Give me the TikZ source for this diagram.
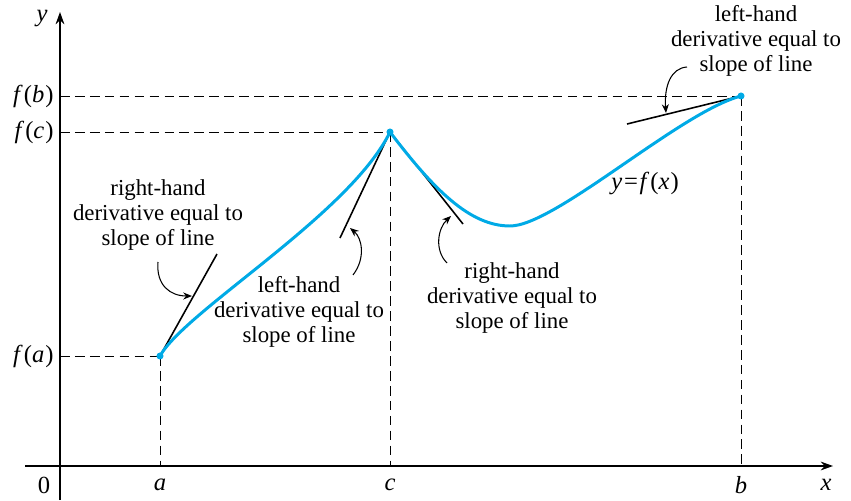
\documentclass[tikz,border=0pt]{standalone}
\usepackage{fontspec}
\setmainfont{Liberation Serif}
\usetikzlibrary{arrows.meta}
\definecolor{curveblue}{RGB}{0,170,230}
\newcommand{\fof}[1]{\textit{f}\kern0.6pt(\textit{#1}\kern0.6pt)}

\begin{document}
\begin{tikzpicture}[x=0.02cm, y=-0.02cm,
    axis/.style={line width=0.8pt, -{Stealth[length=7pt,width=5pt]}},
    guide/.style={dash pattern=on 5.5pt off 3pt, line width=0.5pt},
    tangent/.style={line width=0.9pt},
    pointer/.style={line width=0.6pt, -{Stealth[length=5pt,width=4pt]}},
    note/.style={align=center, inner sep=0pt, font=\fontsize{13}{14.2}\selectfont},
    lab/.style={inner sep=0pt, font=\fontsize{14}{16}\selectfont}
  ]
  \useasboundingbox (0,0) rectangle (851,500);

  % Axes
  \coordinate (O) at (60,466);
  \coordinate (xstart) at (25,466);
  \coordinate (xend) at (833,466);
  \coordinate (ystart) at (60,500);
  \coordinate (yend) at (60,12);
  \draw[axis] (xstart) -- (xend);
  \draw[axis] (ystart) -- (yend);
  \node[lab] (xlab) at (826,485) {\textit{x}};
  \node[lab] (ylab) at (42,19) {\textit{y}};
  \node[lab] (zero) at (44,485) {0};

  % Points of the graph
  \coordinate (A) at (160,356);
  \coordinate (C) at (390,132);
  \coordinate (M) at (510,226);
  \coordinate (B) at (741,96);

  % Guides to the axes
  \draw[guide] (O |- A) -- (A);
  \draw[guide] (A) -- (A |- O);
  \draw[guide] (O |- C) -- (C);
  \draw[guide] (C) -- (C |- O);
  \draw[guide] (O |- B) -- (B);
  \draw[guide] (B) -- (B |- O);
  \node[lab, anchor=east] (fa) at (54,356) {\fof{a}};
  \node[lab, anchor=east] (fc) at (54,132) {\fof{c}};
  \node[lab, anchor=east] (fb) at (54,96) {\fof{b}};
  \node[lab] (alab) at (160,485) {\textit{a}};
  \node[lab] (clab) at (390,485) {\textit{c}};
  \node[lab] (blab) at (741,485) {\textit{b}};

  % Tangent lines
  \coordinate (tA) at (217,254);
  \coordinate (tCl) at (340,238);
  \coordinate (tCr) at (463,224);
  \coordinate (tB) at (627,124);
  \draw[tangent] (A) -- (tA);
  \draw[tangent] (C) -- (tCl);
  \draw[tangent] (C) -- (tCr);
  \draw[tangent] (B) -- (tB);

  % y = f(x)
  \draw[curveblue, line width=1.7pt] (A) .. controls (185,311) and (350,214) .. (C)
    .. controls (434,190) and (470,226) .. (M)
    .. controls (555,226) and (680,112) .. (B);
  \fill[curveblue] (A) circle[radius=2pt];
  \fill[curveblue] (C) circle[radius=2pt];
  \fill[curveblue] (B) circle[radius=2pt];
  \node[lab] (curve) at (645,183) {\textit{y}\kern1pt=\kern1pt\fof{x}};

  % Labels
  \node[note] (rhA) at (158,215) {right-hand\\derivative equal to\\slope of line};
  \node[note] (lhC) at (299,312) {left-hand\\derivative equal to\\slope of line};
  \node[note] (rhC) at (512,298) {right-hand\\derivative equal to\\slope of line};
  \node[note] (lhB) at (756,41) {left-hand\\derivative equal to\\slope of line};

  % Pointers
  \coordinate (p1) at (158,262);
  \coordinate (q1) at (192,296);
  \coordinate (p2) at (353,275);
  \coordinate (q2) at (350,228);
  \coordinate (p3) at (447,263);
  \coordinate (q3) at (451,216);
  \coordinate (p4) at (687,67);
  \coordinate (q4) at (666,113);
  \draw[pointer] (p1) .. controls (156,285) and (170,296) .. (q1);
  \draw[pointer] (p2) .. controls (366,258) and (362,238) .. (q2);
  \draw[pointer] (p3) .. controls (434,250) and (438,228) .. (q3);
  \draw[pointer] (p4) .. controls (671,68) and (664,86) .. (q4);
\end{tikzpicture}
\end{document}
